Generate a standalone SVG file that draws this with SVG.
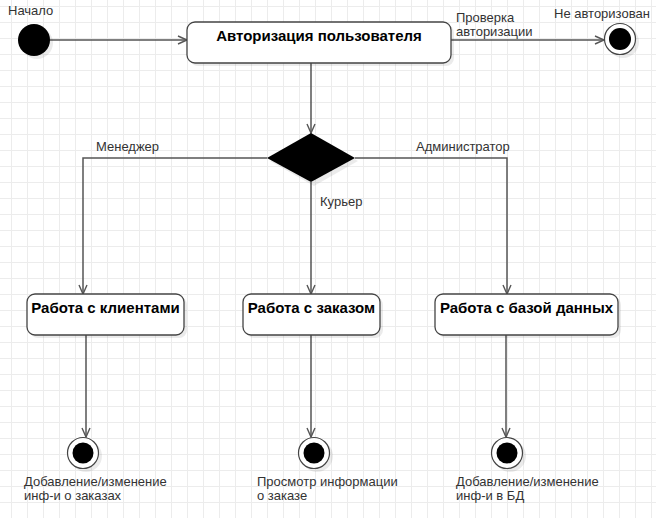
<svg xmlns="http://www.w3.org/2000/svg" width="656" height="518" viewBox="0 0 656 518">
<style>
.lbl{font-family:"Liberation Sans",Arial,sans-serif;font-size:13px;fill:#333}
.ttl{font-family:"Liberation Sans",Arial,sans-serif;font-size:15px;font-weight:bold;fill:#000;text-anchor:middle}
.box{fill:#fff;stroke:#444;stroke-width:1.3}
.shd{fill:#000;opacity:0.08}
.edge{fill:none;stroke:#555;stroke-width:1.5}
</style>
<defs>
<pattern id="grid" patternUnits="userSpaceOnUse" x="11" y="6" width="16" height="16">
<path d="M0.5 0V16M0 0.5H16" fill="none" stroke="#ececec" stroke-width="1"/>
</pattern>
<marker id="arr" markerWidth="12" markerHeight="12" refX="10" refY="5" orient="auto" markerUnits="userSpaceOnUse">
<path d="M1 1L10 5L1 9" fill="none" stroke="#555" stroke-width="1.4"/>
</marker>
</defs>
<rect width="656" height="518" fill="#fff"/>
<rect width="656" height="518" fill="url(#grid)"/>

<g id="connectors">
<path class="edge" d="M50 40H187" marker-end="url(#arr)"/>
<path class="edge" d="M451 40H604" marker-end="url(#arr)"/>
<path class="edge" d="M311 63V133" marker-end="url(#arr)"/>
<path class="edge" d="M267 158H83V294" marker-end="url(#arr)"/>
<path class="edge" d="M311 182V294" marker-end="url(#arr)"/>
<path class="edge" d="M355 158H507V294" marker-end="url(#arr)"/>
<path class="edge" d="M86 335V437" marker-end="url(#arr)"/>
<path class="edge" d="M311 335V437" marker-end="url(#arr)"/>
<path class="edge" d="M506 335V437" marker-end="url(#arr)"/>
<text class="lbl" x="456" y="22">Проверка</text>
<text class="lbl" x="456" y="36">авторизации</text>
<text class="lbl" x="96" y="151">Менеджер</text>
<text class="lbl" x="416" y="151">Администратор</text>
<text class="lbl" x="320" y="206">Курьер</text>
</g>

<g id="start">
<circle class="shd" cx="37" cy="43" r="16"/>
<circle cx="34" cy="40" r="16" fill="#000"/>
<text class="lbl" x="8" y="15">Начало</text>
</g>

<g id="auth">
<rect class="shd" x="190" y="25" width="264" height="41" rx="8"/>
<rect class="box" x="187" y="22" width="264" height="41" rx="8"/>
<text class="ttl" x="319" y="41">Авторизация пользователя</text>
</g>

<g id="end-not-auth">
<circle class="shd" cx="623" cy="42" r="16"/>
<circle cx="620" cy="39" r="15.5" fill="#fff" stroke="#444" stroke-width="1.2"/>
<circle cx="620" cy="39" r="11" fill="#000"/>
<text class="lbl" x="554" y="18">Не авторизован</text>
</g>

<g id="decision">
<path class="shd" d="M314 136L358 161L314 186L270 161Z"/>
<path d="M311 133L355 158L311 182L267 158Z" fill="#000"/>
</g>

<g id="clients">
<rect class="shd" x="30" y="297" width="157" height="41" rx="8"/>
<rect class="box" x="27" y="294" width="157" height="41" rx="8"/>
<text class="ttl" x="105.5" y="313">Работа с клиентами</text>
</g>

<g id="orders">
<rect class="shd" x="246" y="297" width="137" height="41" rx="8"/>
<rect class="box" x="243" y="294" width="137" height="41" rx="8"/>
<text class="ttl" x="311.5" y="313">Работа с заказом</text>
</g>

<g id="database">
<rect class="shd" x="438" y="297" width="183" height="41" rx="8"/>
<rect class="box" x="435" y="294" width="183" height="41" rx="8"/>
<text class="ttl" x="526.5" y="313">Работа с базой данных</text>
</g>

<g id="end-clients">
<circle class="shd" cx="86" cy="456" r="16"/>
<circle cx="83" cy="453" r="15.5" fill="#fff" stroke="#444" stroke-width="1.2"/>
<circle cx="83" cy="453" r="10.5" fill="#000"/>
<text class="lbl" x="24" y="486">Добавление/изменение</text>
<text class="lbl" x="24" y="500">инф-и о заказах</text>
</g>

<g id="end-orders">
<circle class="shd" cx="317" cy="456" r="16"/>
<circle cx="314" cy="453" r="15.5" fill="#fff" stroke="#444" stroke-width="1.2"/>
<circle cx="314" cy="453" r="10.5" fill="#000"/>
<text class="lbl" x="257" y="486">Просмотр информации</text>
<text class="lbl" x="257" y="500">о заказе</text>
</g>

<g id="end-db">
<circle class="shd" cx="510" cy="456" r="16"/>
<circle cx="507" cy="453" r="15.5" fill="#fff" stroke="#444" stroke-width="1.2"/>
<circle cx="507" cy="453" r="10.5" fill="#000"/>
<text class="lbl" x="456" y="486">Добавление/изменение</text>
<text class="lbl" x="456" y="500">инф-и в БД</text>
</g>
</svg>
